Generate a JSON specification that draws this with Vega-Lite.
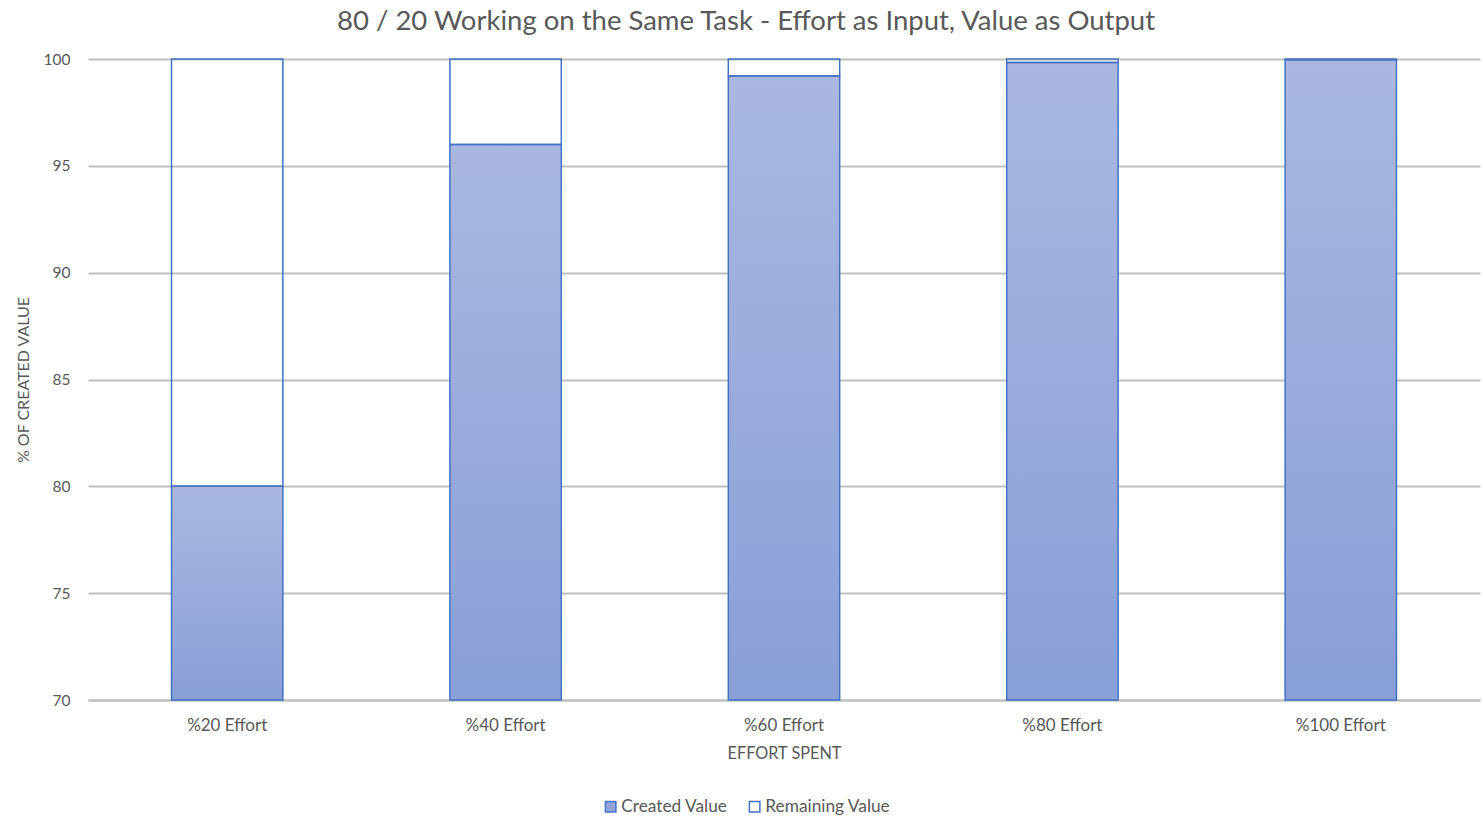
{
  "$schema": "https://vega.github.io/schema/vega-lite/v6.json",
  "autosize": {"type": "none"},
  "width": 1392,
  "height": 641,
  "padding": {"left": 88, "top": 59, "right": 2, "bottom": 117},
  "background": "white",
  "config": {
    "font": "Lato",
    "view": {"stroke": null},
    "axis": {"labelColor": "#595959", "titleColor": "#595959", "labelFont": "Lato", "titleFont": "Lato", "titleFontWeight": "normal"}
  },
  "title": {
    "text": "80 / 20 Working on the Same Task - Effort as Input, Value as Output",
    "fontSize": 27.5,
    "fontWeight": "normal",
    "color": "#595959",
    "font": "Lato",
    "anchor": "middle",
    "dx": -38,
    "offset": 17
  },
  "data": {
    "values": [
      {"effort": "%20 Effort", "Created Value": 80, "Remaining Value": 20},
      {"effort": "%40 Effort", "Created Value": 96, "Remaining Value": 4},
      {"effort": "%60 Effort", "Created Value": 99.2, "Remaining Value": 0.8},
      {"effort": "%80 Effort", "Created Value": 99.84, "Remaining Value": 0.16},
      {"effort": "%100 Effort", "Created Value": 99.968, "Remaining Value": 0.032}
    ]
  },
  "encoding": {
    "x": {
      "field": "effort",
      "type": "nominal",
      "sort": null,
      "scale": {"paddingInner": 0.6, "paddingOuter": 0.3},
      "axis": {
        "title": "EFFORT SPENT",
        "titleFontSize": 16.3,
        "titlePadding": 12,
        "labelFontSize": 17,
        "labelAngle": 0,
        "labelPadding": 17,
        "ticks": false,
        "domainColor": "#bfbfbf",
        "domainWidth": 2,
        "grid": false
      }
    }
  },
  "layer": [
    {
      "mark": {
        "type": "bar",
        "stroke": "#4472c4",
        "strokeWidth": 1.5,
        "color": {
          "gradient": "linear",
          "x1": 0, "y1": 0, "x2": 0, "y2": 1,
          "stops": [
            {"offset": 0, "color": "#aab8df"},
            {"offset": 1, "color": "#889fd7"}
          ]
        }
      },
      "encoding": {
        "y": {
          "field": "Created Value",
          "type": "quantitative",
          "scale": {"domain": [70, 100], "nice": false},
          "axis": {
            "title": "% OF CREATED VALUE",
            "titleFontSize": 16,
            "titlePadding": 12,
            "labelFontSize": 15.5,
            "labelPadding": 18,
            "ticks": false,
            "domain": false,
            "values": [70, 75, 80, 85, 90, 95, 100],
            "gridColor": "#bfbfbf",
            "gridWidth": 2
          }
        },
        "y2": {"datum": 70}
      }
    },
    {
      "mark": {"type": "bar", "fill": "white", "fillOpacity": 0, "stroke": "#4472c4", "strokeWidth": 1.5},
      "encoding": {
        "y": {"field": "Created Value", "type": "quantitative"},
        "y2": {"datum": 100}
      }
    },
    {
      "transform": [{"fold": ["Created Value", "Remaining Value"], "as": ["series", "value"]}],
      "mark": {"type": "point", "shape": "square", "filled": true, "opacity": 0, "clip": true},
      "encoding": {
        "y": {"field": "value", "type": "quantitative"},
        "fill": {
          "field": "series",
          "type": "nominal",
          "scale": {"domain": ["Created Value", "Remaining Value"], "range": ["#8fa5d9", "#ffffff"]},
          "legend": {
            "title": null,
            "orient": "none",
            "legendX": 514,
            "legendY": 739,
            "direction": "horizontal",
            "labelFontSize": 17.3,
            "labelColor": "#595959",
            "labelFont": "Lato",
            "symbolType": "square",
            "symbolSize": 110,
            "symbolOpacity": 1,
            "symbolStrokeColor": "#4472c4",
            "symbolStrokeWidth": 1.5,
            "columnPadding": 18,
            "labelOffset": 2
          }
        }
      }
    }
  ]
}
